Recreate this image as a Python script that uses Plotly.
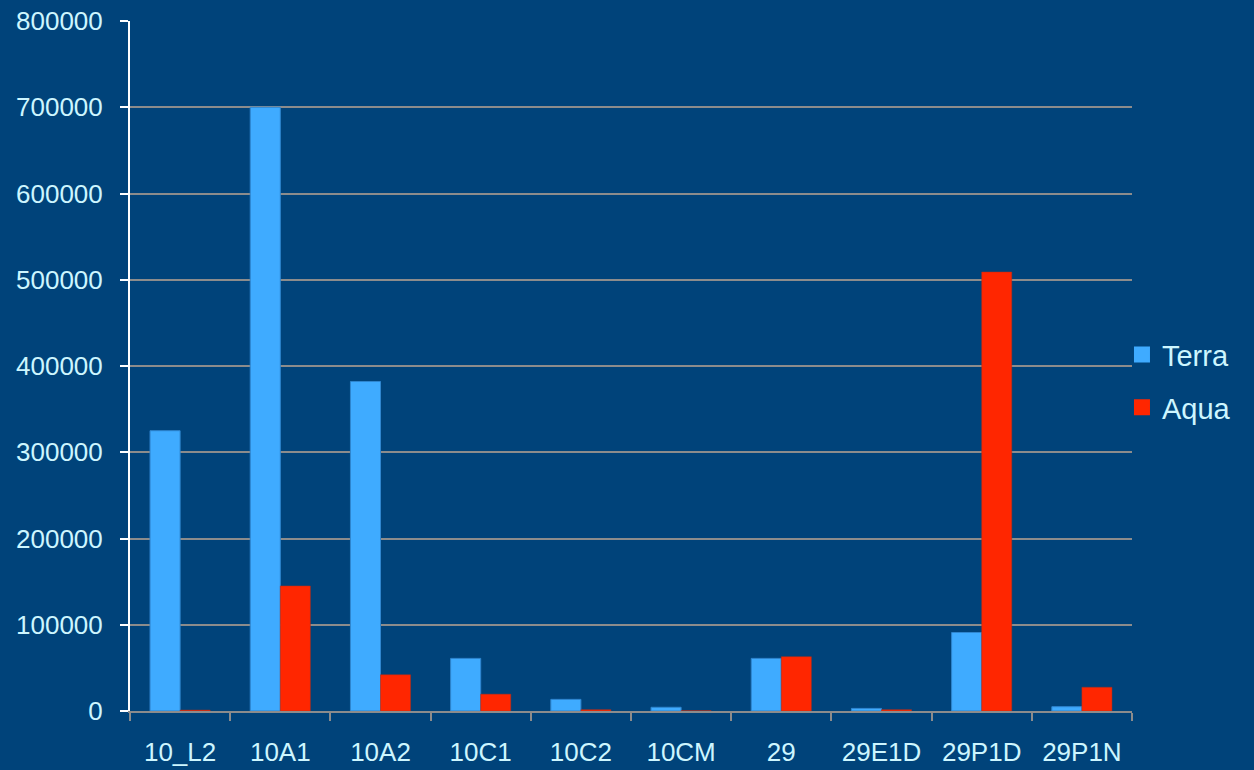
import plotly.graph_objects as go

categories = ["10_L2", "10A1", "10A2", "10C1", "10C2", "10CM", "29", "29E1D", "29P1D", "29P1N"]
terra = [325000, 700000, 382000, 61000, 13500, 4300, 61000, 3000, 91000, 5000]
aqua = [1000, 145000, 42000, 19500, 1500, 300, 63000, 1500, 509000, 27500]
y_ticks = [0, 100000, 200000, 300000, 400000, 500000, 600000, 700000, 800000]

BG = "#00437A"
TXT = "#CDF6FF"
GRID = "#8C8C8C"
TERRA_C = "#3FABFF"
AQUA_C = "#FF2600"

fig = go.Figure()
fig.add_trace(go.Bar(x=categories, y=terra, name="Terra", marker_color=TERRA_C,
                     marker_line=dict(width=1, color="#2F86CF"), showlegend=False))
fig.add_trace(go.Bar(x=categories, y=aqua, name="Aqua", marker_color=AQUA_C,
                     marker_line=dict(width=0.5, color="#B0301A"), showlegend=False))
# legend entries with larger square swatches
fig.add_trace(go.Scatter(x=[None], y=[None], mode="markers", name="Terra",
                         marker=dict(symbol="square", size=18, color=TERRA_C),
                         legendgroup="t"))
fig.add_trace(go.Scatter(x=[None], y=[None], mode="markers", name="Aqua",
                         marker=dict(symbol="square", size=18, color=AQUA_C),
                         legendgroup="a"))

fig.update_layout(
    width=1254, height=770,
    paper_bgcolor=BG, plot_bgcolor=BG,
    margin=dict(l=130, r=122, t=21, b=59, autoexpand=False),
    barmode="group", bargap=0.4, bargroupgap=0,
    font=dict(family="Liberation Sans, Arial", color=TXT, size=26),
    legend=dict(x=0.99, xanchor="left", y=0.478, yanchor="middle",
                font=dict(size=29, color=TXT), bgcolor="rgba(0,0,0,0)",
                traceorder="grouped", tracegroupgap=12, itemwidth=30),
    showlegend=True,
)
fig.update_xaxes(
    showgrid=False, showline=True, linecolor=GRID, linewidth=2,
    ticks="outside", tickson="boundaries", ticklen=8, tickcolor=GRID, tickwidth=2,
    tickfont=dict(size=26, color=TXT), ticklabelstandoff=17, automargin=False,
)
fig.update_yaxes(
    range=[0, 800000], tickvals=y_ticks, ticktext=[str(v) for v in y_ticks],
    showgrid=True, gridcolor=GRID, gridwidth=2,
    showline=True, linecolor="#FFFFFF", linewidth=2,
    ticks="outside", ticklen=8, tickcolor="#FFFFFF", tickwidth=2,
    tickfont=dict(size=26, color=TXT), ticklabelstandoff=12,
    zeroline=False, automargin=False,
)

fig.write_html("out.html", config={"displayModeBar": False})
with open("out.html", "r", encoding="utf-8") as f:
    html = f.read()
html = html.replace("<body>", "<body style=\"margin:0;padding:0;background:#00437A;\">", 1)
with open("out.html", "w", encoding="utf-8") as f:
    f.write(html)
